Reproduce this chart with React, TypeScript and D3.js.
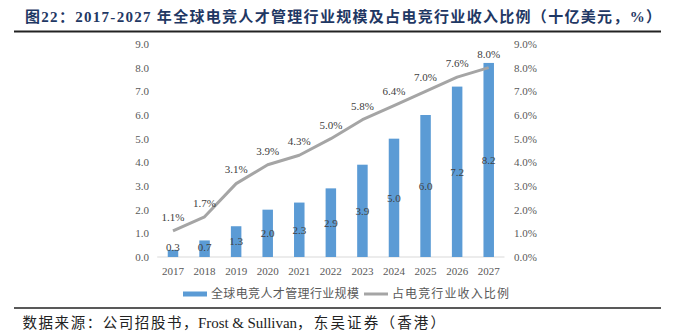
import React from "react";
import * as d3 from "d3";

const years = ["2017","2018","2019","2020","2021","2022","2023","2024","2025","2026","2027"];
const marketSize = [0.3,0.7,1.3,2.0,2.3,2.9,3.9,5.0,6.0,7.2,8.2];
const sharePct = [1.1,1.7,3.1,3.9,4.3,5.0,5.8,6.4,7.0,7.6,8.0];
const leftTicks = [0,1,2,3,4,5,6,7,8,9];
const rightTicks = [0,1,2,3,4,5,6,7,8,9];
const title = "图22：2017-2027 年全球电竞人才管理行业规模及占电竞行业收入比例（十亿美元，%）";
const legendBar = "全球电竞人才管理行业规模";
const legendLine = "占电竞行业收入比例";
const sourceA = "数据来源：公司招股书，";
const sourceB = "Frost & Sullivan";
const sourceC = "，东吴证券（香港）";

const serif = "'Liberation Serif', 'Times New Roman', 'Noto Sans CJK SC', serif";
const cjk = "'Liberation Serif', 'Noto Sans CJK SC', serif";

export default function App() {
  const W = 674, H = 331;
  const xc = d3.scaleBand<string>().domain(years).range([157.2, 504.5]);
  const yL = d3.scaleLinear().domain([0, 9]).range([257, 44]);
  const yR = d3.scaleLinear().domain([0, 9]).range([257, 44]);
  const cxOf = (yr: string) => (xc(yr) as number) + xc.bandwidth() / 2;
  const line = d3.line<number>()
    .x((_, i) => cxOf(years[i]))
    .y((d) => yR(d));
  const bw = 10.5;
  return (
    <svg width={W} height={H} style={{ position: "absolute", left: 0, top: 0, background: "#fff" }}>
      <text x={25} y={22} fontFamily={cjk} fontWeight="bold" fontSize={15} fill="#1f3864" textLength={636} lengthAdjust="spacing">{title}</text>
      <line x1={14} x2={661} y1={31.5} y2={31.5} stroke="#222" strokeWidth={2.2} />
      {leftTicks.map((t) => (
        <text key={"l" + t} x={149} y={yL(t)} dy="0.35em" textAnchor="end" fontFamily={serif} fontSize={11} fill="#595959">{t.toFixed(1)}</text>
      ))}
      {rightTicks.map((t) => (
        <text key={"r" + t} x={514} y={yR(t)} dy="0.35em" textAnchor="start" fontFamily={serif} fontSize={11} fill="#595959">{t.toFixed(1) + "%"}</text>
      ))}
      <line x1={157.2} x2={504.5} y1={257} y2={257} stroke="#d9d9d9" strokeWidth={1} />
      {marketSize.map((v, i) => {
        const cx = cxOf(years[i]);
        return <rect key={"b" + i} x={cx - bw / 2} y={yL(v)} width={bw} height={257 - yL(v)} fill="#5b9bd5" />;
      })}
      <path d={line(sharePct) || ""} fill="none" stroke="#a5a5a5" strokeWidth={3} strokeLinejoin="round" />
      {marketSize.map((v, i) => {
        const cx = cxOf(years[i]);
        const cy = Math.min((yL(v) + 257) / 2, 247.5);
        return <text key={"bl" + i} x={cx} y={cy} dy="0.35em" textAnchor="middle" fontFamily={serif} fontSize={11} fill="#404040">{v.toFixed(1)}</text>;
      })}
      {sharePct.map((v, i) => {
        const cx = cxOf(years[i]);
        return <text key={"ll" + i} x={cx} y={yR(v) - 14} dy="0.35em" textAnchor="middle" fontFamily={serif} fontSize={11} fill="#404040">{v.toFixed(1) + "%"}</text>;
      })}
      {years.map((yr) => (
        <text key={"x" + yr} x={cxOf(yr)} y={271} dy="0.35em" textAnchor="middle" fontFamily={serif} fontSize={11} fill="#595959">{yr}</text>
      ))}
      <rect x={183} y={291.5} width={24} height={5} fill="#5b9bd5" />
      <text x={211} y={294} dy="0.35em" fontFamily={cjk} fontSize={12} fill="#595959" textLength={148} lengthAdjust="spacing">{legendBar}</text>
      <line x1={364} x2={388} y1={294} y2={294} stroke="#a5a5a5" strokeWidth={3} />
      <text x={392} y={294} dy="0.35em" fontFamily={cjk} fontSize={12} fill="#595959" textLength={117} lengthAdjust="spacing">{legendLine}</text>
      <line x1={14} x2={661} y1={308} y2={308} stroke="#222" strokeWidth={1.5} />
      <text y={323} dy="0.35em" fontFamily={cjk} fontSize={14.5} fill="#222">
        <tspan x={22.5} textLength={175} lengthAdjust="spacing">{sourceA}</tspan>
        <tspan x={198} fontFamily={serif} fontSize={15} textLength={99} lengthAdjust="spacing">{sourceB}</tspan>
        <tspan x={297} textLength={148} lengthAdjust="spacing">{sourceC}</tspan>
      </text>
    </svg>
  );
}
